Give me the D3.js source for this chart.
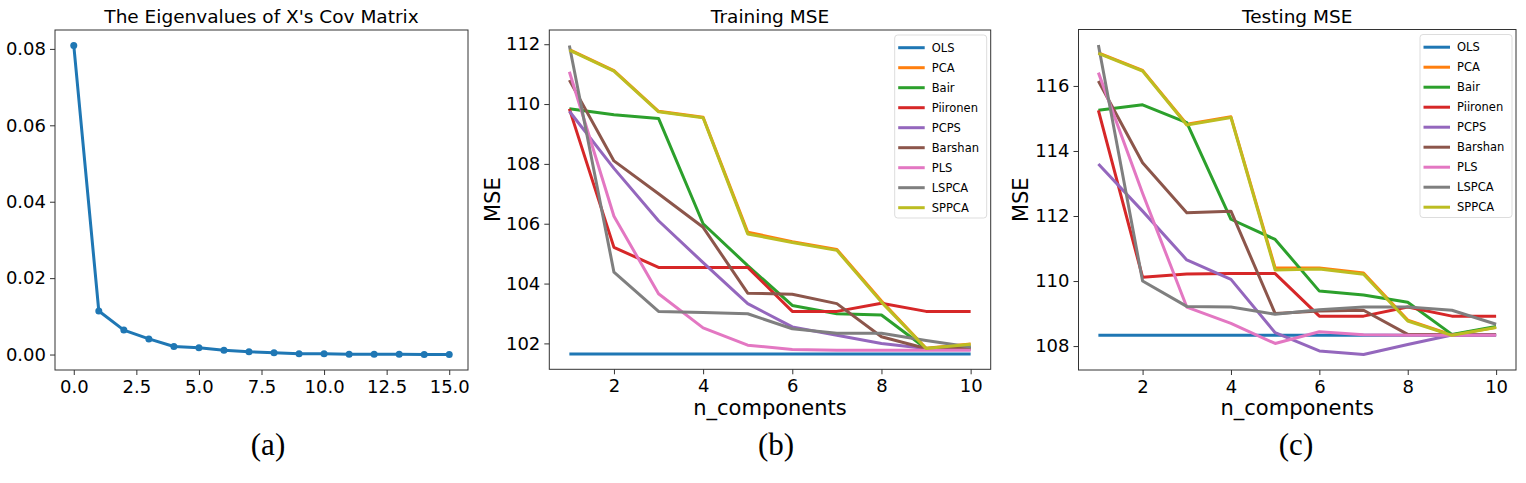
<!DOCTYPE html>
<html>
<head>
<meta charset="utf-8">
<script src="https://cdn.jsdelivr.net/npm/d3@7"></script>
<style>
    body { margin: 0; background: #fff; }
    text { font-family: "DejaVu Sans", sans-serif; fill: #000; }
    .caption { font-family: "Liberation Serif", "Times New Roman", serif; }
</style>
</head>
<body>
<script>
// ------------------------------------------------------------------
//  eigenvalues + training / testing MSE, three panels
// ------------------------------------------------------------------

// panel (a)
const eigIndex = [0, 1, 2, 3, 4, 5, 6, 7, 8, 9, 10, 11, 12, 13, 14, 15]
const eigValues = [0.0809, 0.0114, 0.0064, 0.0041, 0.0021, 0.0018, 0.0011, 0.0007,
    0.0005, 0.0002, 0.0002, 0.0001, 0.0001, 0.0001, 0.0000, 0.0000]
const eigXTicks = [0, 2.5, 5, 7.5, 10, 12.5, 15]
const eigYTicks = [0, 0.02, 0.04, 0.06, 0.08]

// panels (b) and (c)
const nComponents = [1, 2, 3, 4, 5, 6, 7, 8, 9, 10]
const compTicks = [2, 4, 6, 8, 10]
const methods = ["OLS", "PCA", "Bair", "Piironen", "PCPS", "Barshan", "PLS", "LSPCA", "SPPCA"]

const trainOLS = [101.65, 101.65, 101.65, 101.65, 101.65, 101.65, 101.65, 101.65, 101.65, 101.65]
const trainPCA = [111.82, 111.12, 109.76, 109.56, 105.72, 105.40, 105.14, 103.42, 101.84, 101.98]
const trainBair = [109.84, 109.64, 109.52, 106.00, 104.60, 103.27, 102.99, 102.95, 101.83, 101.88]
const trainPiironen = [109.84, 105.21, 104.54, 104.54, 104.54, 103.07, 103.07, 103.34, 103.07, 103.07]
const trainPCPS = [109.76, 107.85, 106.10, 104.70, 103.33, 102.55, 102.27, 102.00, 101.83, 101.80]
const trainBarshan = [110.80, 108.10, 107.00, 105.88, 103.68, 103.64, 103.33, 102.22, 101.83, 101.83]
const trainPLS = [111.08, 106.25, 103.66, 102.52, 101.94, 101.80, 101.77, 101.77, 101.77, 101.77]
const trainLSPCA = [111.96, 104.38, 103.07, 103.03, 102.99, 102.49, 102.34, 102.34, 102.10, 101.88]
const trainSPPCA = [111.80, 111.10, 109.74, 109.54, 105.66, 105.37, 105.11, 103.38, 101.83, 101.97]
const trainYTicks = [102, 104, 106, 108, 110, 112]

const testOLS = [108.33, 108.33, 108.33, 108.33, 108.33, 108.33, 108.33, 108.33, 108.33, 108.33]
const testPCA = [117.02, 116.48, 114.82, 115.05, 110.40, 110.40, 110.25, 108.80, 108.34, 108.58]
const testBair = [115.25, 115.42, 114.87, 111.90, 111.28, 109.69, 109.57, 109.35, 108.36, 108.60]
const testPiironen = [115.25, 110.12, 110.22, 110.23, 110.23, 108.92, 108.92, 109.20, 108.92, 108.92]
const testPCPS = [113.60, 112.15, 110.65, 110.05, 108.41, 107.85, 107.74, 108.05, 108.34, 108.35]
const testBarshan = [116.15, 113.64, 112.10, 112.15, 109.00, 109.08, 109.10, 108.36, 108.35, 108.35]
const testPLS = [116.41, 112.70, 109.20, 108.70, 108.08, 108.44, 108.35, 108.33, 108.33, 108.33]
const testLSPCA = [117.26, 110.00, 109.22, 109.20, 108.98, 109.12, 109.20, 109.20, 109.10, 108.67]
const testSPPCA = [117.00, 116.46, 114.80, 115.03, 110.34, 110.37, 110.21, 108.77, 108.33, 108.57]
const testYTicks = [108, 110, 112, 114, 116]

const trainSeries = [trainOLS, trainPCA, trainBair, trainPiironen, trainPCPS, trainBarshan, trainPLS, trainLSPCA, trainSPPCA]
const testSeries = [testOLS, testPCA, testBair, testPiironen, testPCPS, testBarshan, testPLS, testLSPCA, testSPPCA]

const colors = ["#1f77b4", "#ff7f0e", "#2ca02c", "#d62728", "#9467bd", "#8c564b", "#e377c2", "#7f7f7f", "#bcbd22"]

const svg = d3.select("body").append("svg")
    .attr("width", 1526)
    .attr("height", 483)

// matplotlib style 5% margin
function padded(lo, hi) {
    const p = (hi - lo) * 0.05
    return [lo - p, hi + p]
}

// ------------------------------------------------------------------
function draw_axes(box, x, y, xTicks, yTicks, xFmt, yFmt) {
    const g = svg.append("g")

    g.append("g")
        .attr("transform", "translate(0," + box.bottom + ")")
        .call(d3.axisBottom(x).tickValues(xTicks).tickFormat(xFmt).tickSize(5).tickPadding(5))
        .call(a => a.select(".domain").remove())
        .call(a => a.selectAll("text").attr("font-size", 18).attr("font-family", "DejaVu Sans").attr("fill", "#000"))
        .call(a => a.selectAll("line").attr("stroke", "#333"))

    g.append("g")
        .attr("transform", "translate(" + box.left + ",0)")
        .call(d3.axisLeft(y).tickValues(yTicks).tickFormat(yFmt).tickSize(5).tickPadding(4))
        .call(a => a.select(".domain").remove())
        .call(a => a.selectAll("text").attr("font-size", 18).attr("font-family", "DejaVu Sans").attr("fill", "#000"))
        .call(a => a.selectAll("line").attr("stroke", "#333"))

    g.append("rect")
        .attr("x", box.left).attr("y", box.top)
        .attr("width", box.right - box.left)
        .attr("height", box.bottom - box.top)
        .attr("fill", "none")
        .attr("stroke", "#333")
        .attr("stroke-width", 1)

    svg.append("text")
        .attr("x", (box.left + box.right) / 2)
        .attr("y", 23)
        .attr("text-anchor", "middle")
        .attr("font-size", 18.5)
        .text(box.title)

    svg.append("text")
        .attr("class", "caption")
        .attr("x", box.caption)
        .attr("y", 455)
        .attr("text-anchor", "middle")
        .attr("font-size", 31)
        .text(box.label)
}

// ------------------------------------------------------------------
function eigen_proc() {
    const box = { left: 55, right: 468, top: 30, bottom: 370, title: "The Eigenvalues of X's Cov Matrix", label: "(a)", caption: 268 }

    const x = d3.scaleLinear()
        .domain(padded(d3.min(eigIndex), d3.max(eigIndex)))
        .range([box.left, box.right])
    const y = d3.scaleLinear()
        .domain(padded(d3.min(eigValues), d3.max(eigValues)))
        .range([box.bottom, box.top])

    draw_axes(box, x, y, eigXTicks, eigYTicks, d3.format(".1f"), d3.format(".2f"))

    const pts = eigIndex.map((d, i) => [d, eigValues[i]])

    svg.append("path")
        .datum(pts)
        .attr("fill", "none")
        .attr("stroke", "#1f77b4")
        .attr("stroke-width", 3)
        .attr("stroke-linejoin", "round")
        .attr("d", d3.line().x(d => x(d[0])).y(d => y(d[1])))

    svg.selectAll(".eigdot")
        .data(pts)
        .enter().append("circle")
        .attr("class", "eigdot")
        .attr("cx", d => x(d[0]))
        .attr("cy", d => y(d[1]))
        .attr("r", 3.5)
        .attr("fill", "#1f77b4")
}

// ------------------------------------------------------------------
function mse_proc(box, series, yTicks) {
    const all = series.flat()

    const x = d3.scaleLinear()
        .domain(padded(d3.min(nComponents), d3.max(nComponents)))
        .range([box.left, box.right])
    const y = d3.scaleLinear()
        .domain(padded(d3.min(all), d3.max(all)))
        .range([box.bottom, box.top])

    draw_axes(box, x, y, compTicks, yTicks, d3.format("d"), d3.format("d"))

    const line = d3.line()
        .x((d, i) => x(nComponents[i]))
        .y(d => y(d))

    series.forEach(function (s, k) {
        svg.append("path")
            .datum(s)
            .attr("fill", "none")
            .attr("stroke", colors[k])
            .attr("stroke-width", 3)
            .attr("stroke-linejoin", "round")
            .attr("d", line)
    })

    // axis labels
    svg.append("text")
        .attr("x", (box.left + box.right) / 2)
        .attr("y", 415)
        .attr("text-anchor", "middle")
        .attr("font-size", 21)
        .text("n_components")

    svg.append("text")
        .attr("transform", "translate(" + box.ylab + "," + (box.top + box.bottom) / 2 + ") rotate(-90)")
        .attr("text-anchor", "middle")
        .attr("font-size", 21)
        .text("MSE")

    // legend
    const lg = svg.append("g")
        .attr("transform", "translate(" + (box.right - 96) + "," + (box.top + 5) + ")")

    lg.append("rect")
        .attr("width", 92)
        .attr("height", 183)
        .attr("rx", 3)
        .attr("fill", "#fff")
        .attr("fill-opacity", 0.8)
        .attr("stroke", "#ddd")

    methods.forEach(function (m, k) {
        const yy = 12.7 + k * 20
        lg.append("line")
            .attr("x1", 3.5).attr("x2", 30)
            .attr("y1", yy).attr("y2", yy)
            .attr("stroke", colors[k])
            .attr("stroke-width", 3)
        lg.append("text")
            .attr("x", 37)
            .attr("y", yy + 4)
            .attr("font-size", 11.5)
            .text(m)
    })
}

eigen_proc()
mse_proc({ left: 549.3, right: 990.7, top: 30, bottom: 369.3, title: "Training MSE", label: "(b)", caption: 776, ylab: 500 },
    trainSeries, trainYTicks)
mse_proc({ left: 1078.5, right: 1516, top: 29.5, bottom: 370, title: "Testing MSE", label: "(c)", caption: 1296, ylab: 1028 },
    testSeries, testYTicks)
</script>
</body>
</html>
